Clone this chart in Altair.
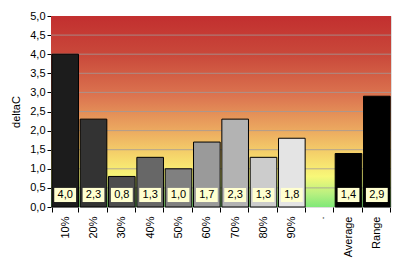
import altair as alt
import pandas as pd

categories = ["10%", "20%", "30%", "40%", "50%", "60%", "70%", "80%", "90%", ".", "Average", "Range"]
values = [4.0, 2.3, 0.8, 1.3, 1.0, 1.7, 2.3, 1.3, 1.8, None, 1.4, 2.9]
bar_colors = ["#1c1c1c", "#333333", "#4d4d4d", "#676767", "#808080", "#9a9a9a",
              "#b3b3b3", "#cccccc", "#e4e4e4", "#ffffff", "#000000", "#000000"]
grid_values = [0.5, 1.0, 1.5, 2.0, 2.5, 3.0, 3.5, 4.0, 4.5]
y_ticks = [0, 0.5, 1, 1.5, 2, 2.5, 3, 3.5, 4, 4.5, 5]

W, H = 340, 191
FONT = "Liberation Sans"

df = pd.DataFrame({"cat": categories, "v": values})
bars_df = df.dropna()

x_enc = alt.X("cat:N", sort=categories, scale=alt.Scale(domain=categories, paddingInner=0.06, paddingOuter=0.03),
              axis=alt.Axis(title=None, labelAngle=-90, labelAlign="right", labelBaseline="middle",
                            labelFont=FONT, labelFontSize=11, labelColor="black", labelPadding=4,
                            tickBand="extent", tickSize=5, tickColor="black", domain=False, grid=False))
y_scale = alt.Scale(domain=[0, 5], nice=False)
y_axis = alt.Axis(title="deltaC", titleFont=FONT, titleFontSize=11, titleFontWeight="normal",
                  titleColor="black", titlePadding=8,
                  values=y_ticks, labelOverlap=False, labelFlush=False,
                  labelExpr="replace(format(datum.value, '.1f'), '.', ',')",
                  labelFont=FONT, labelFontSize=11, labelColor="black",
                  tickSize=4, tickColor="black", domain=False, grid=False)

gradient = alt.Gradient(
    gradient="linear", x1=0, x2=0, y1=0, y2=1,
    stops=[
        alt.GradientStop(color="#c22f2f", offset=0.0),
        alt.GradientStop(color="#c9483a", offset=0.2),
        alt.GradientStop(color="#dc7550", offset=0.42),
        alt.GradientStop(color="#ecaa60", offset=0.6),
        alt.GradientStop(color="#f6d86c", offset=0.74),
        alt.GradientStop(color="#f8f878", offset=0.84),
        alt.GradientStop(color="#b8f080", offset=0.93),
        alt.GradientStop(color="#80e878", offset=1.0),
    ])

background = alt.Chart(alt.Data(values=[{"a": 1}])).mark_rect(fill=gradient).encode(
    x=alt.value(0), x2=alt.value(W), y=alt.value(0), y2=alt.value(H))

grid = alt.Chart(pd.DataFrame({"g": grid_values})).mark_rule(color="#a09a98", strokeWidth=1, opacity=0.8).encode(
    y=alt.Y("g:Q", scale=y_scale, axis=y_axis), x=alt.value(0), x2=alt.value(W))

bars = alt.Chart(bars_df).mark_bar(stroke="black", strokeWidth=1).encode(
    x=x_enc, y=alt.Y("v:Q", scale=y_scale, axis=y_axis),
    color=alt.Color("cat:N", scale=alt.Scale(domain=categories, range=bar_colors), legend=None))

boxes = alt.Chart(bars_df).mark_bar(fill="#ffffd0", width={"band": 0.82}).encode(
    x=alt.X("cat:N", sort=categories),
    y=alt.YDatum(0.13, scale=y_scale, axis=y_axis), y2=alt.Y2Datum(0.5))

labels = alt.Chart(bars_df).transform_calculate(
    lab="replace(format(datum.v, '.1f'), '.', ',')"
).mark_text(font=FONT, fontSize=11, color="black", baseline="middle").encode(
    x=alt.X("cat:N", sort=categories),
    y=alt.YDatum(0.31, scale=y_scale, axis=y_axis), text="lab:N")

chart = alt.layer(background, grid, bars, boxes, labels).properties(
    width=W, height=H,
    autosize=alt.AutoSizeParams(type="none"),
    padding={"left": 51, "top": 16, "right": 9, "bottom": 61},
).configure_view(stroke="black", strokeWidth=1.5).configure(background="white")

chart.save("out.html", embed_options={"renderer": "svg", "actions": False})
